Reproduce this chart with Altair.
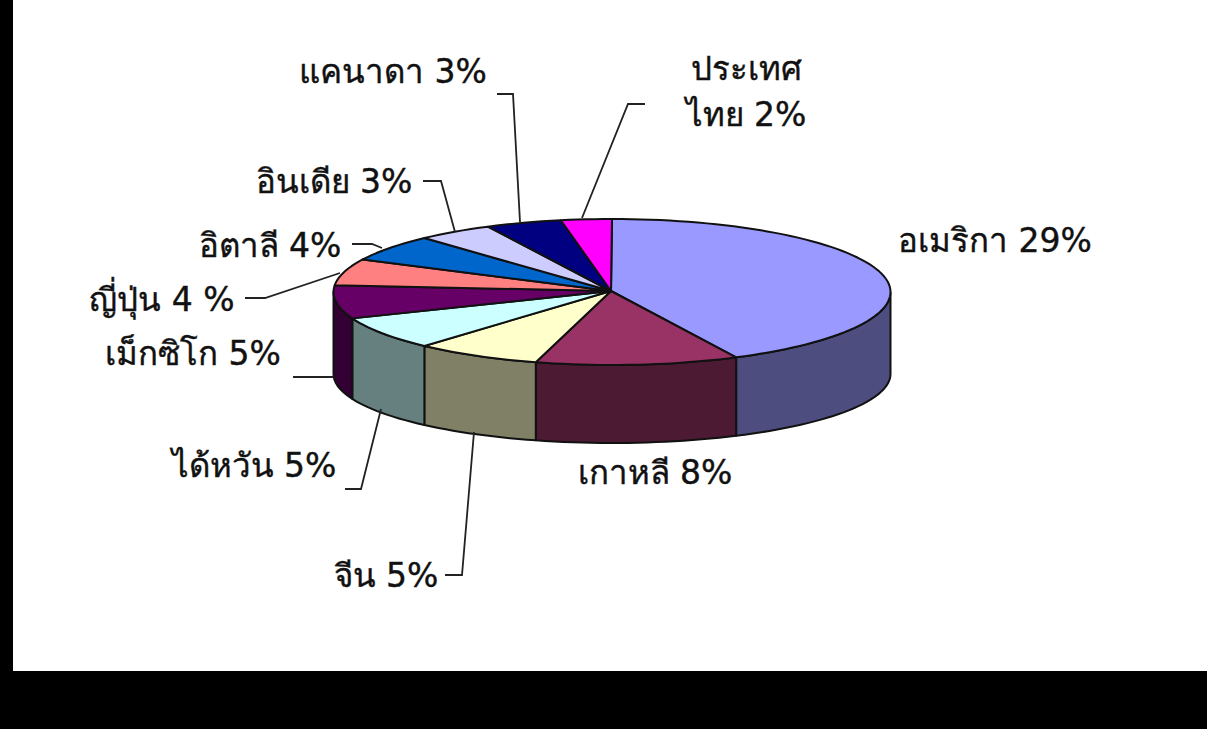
import math
import altair as alt
import pandas as pd

# Export shares by destination, clockwise from twelve o'clock
countries = ["อเมริกา", "เกาหลี", "จีน", "ได้หวัน", "เม็กซิโก", "ญี่ปุ่น", "อิตาลี", "อินเดีย", "แคนาดา", "ประเทศไทย"]
shares = [29, 8, 5, 5, 5, 4, 4, 3, 3, 2]
top_colors = ["#9999FF", "#993366", "#FFFFCC", "#CCFFFF", "#660066", "#FF8080", "#0066CC", "#CCCCFF", "#000080", "#FF00FF"]
wall_colors = ["#4D4D80", "#4D1A33", "#808066", "#668080", "#330033", "#804040", "#003366", "#666680", "#000040", "#800080"]

# Label text, its centre, its baseline
label_texts = ["แคนาดา 3%", "อินเดีย 3%", "อิตาลี 4%", "ญี่ปุ่น 4 %", "เม็กซิโก 5%", "ได้หวัน 5%", "จีน 5%",
               "เกาหลี 8%", "อเมริกา 29%", "ประเทศ", "ไทย 2%"]
label_x = [393, 334, 270, 162, 193, 254, 386, 655, 995, 746, 746]
label_y = [83, 193, 257, 311, 365, 477, 587, 484, 252, 80, 126]

# Leader lines from label to slice
leaders = {
    "แคนาดา": [(497, 94), (513, 94), (520, 222)],
    "อินเดีย": [(423, 181), (441, 181), (455, 232)],
    "อิตาลี": [(352, 244), (372, 244), (382, 248)],
    "ญี่ปุ่น": [(245, 298), (265, 298), (340, 273)],
    "เม็กซิโก": [(293, 377), (333, 377)],
    "ได้หวัน": [(345, 489), (361, 489), (381, 409)],
    "จีน": [(445, 575), (462, 575), (474, 432)],
    "ไทย": [(645, 104), (628, 104), (582, 218)],
}

WIDTH, HEIGHT = 1207, 729
CX, CY, RX, RY = 612, 292, 278.5, 73
BOTTOM_CY, BOTTOM_RY = 374, 69


def on_rim(deg, cy=CY, ry=RY):
    t = math.radians(deg)
    return CX + RX * math.sin(t), cy - ry * math.cos(t)


def arc_degrees(a, b, step=2.0):
    n = max(2, int((b - a) / step) + 1)
    return [a + (b - a) * i / n for i in range(n + 1)]


total = sum(shares)
top_rows, wall_rows = [], []
start = 0.0
for i, (name, share) in enumerate(zip(countries, shares)):
    end = start + share / total * 360
    # Top face: wedge from the hub round the rim and back
    pts = [(CX - 1, CY - 1)] + [on_rim(d) for d in arc_degrees(start, end)] + [(CX - 1, CY - 1)]
    top_rows += [dict(slice=name, order=j, x=p[0], y=p[1], fill=top_colors[i]) for j, p in enumerate(pts)]
    # Wall: only the part of the rim that faces the viewer
    a, b = max(start, 90), min(end, 270)
    if b > a:
        deg = arc_degrees(a, b)
        pts = [on_rim(d) for d in deg] + [on_rim(d, BOTTOM_CY, BOTTOM_RY) for d in reversed(deg)]
        pts.append(pts[0])
        wall_rows += [dict(slice=name, order=j, x=p[0], y=p[1], fill=wall_colors[i]) for j, p in enumerate(pts)]
    start = end

leader_rows = [dict(key=k, order=j, x=p[0], y=p[1]) for k, pts in leaders.items() for j, p in enumerate(pts)]
label_rows = pd.DataFrame(dict(text=label_texts, x=label_x, y=label_y))

x_scale = alt.Scale(domain=[0, WIDTH], range=[0, WIDTH], nice=False, zero=False)
y_scale = alt.Scale(domain=[0, HEIGHT], range=[0, HEIGHT], nice=False, zero=False)
X = alt.X("x:Q", scale=x_scale, axis=None)
Y = alt.Y("y:Q", scale=y_scale, axis=None)

frame = pd.DataFrame(dict(x=[13], x2=[WIDTH], y=[0], y2=[671]))
panel = alt.Chart(frame).mark_rect(color="white").encode(X, Y, x2="x2:Q", y2="y2:Q")


def faces(rows):
    return alt.Chart(pd.DataFrame(rows)).mark_line(
        stroke="#111111", strokeWidth=2, strokeJoin="round", interpolate="linear"
    ).encode(
        X, Y,
        order="order:Q",
        detail="slice:N",
        fill=alt.Fill("fill:N", scale=None),
    )


walls = faces(wall_rows)
tops = faces(top_rows)

leader_lines = alt.Chart(pd.DataFrame(leader_rows)).mark_line(color="#222222", strokeWidth=1.8).encode(
    X, Y, order="order:Q", detail="key:N"
)

labels = alt.Chart(label_rows).mark_text(
    font="DejaVu Sans, Liberation Sans, sans-serif", fontSize=33, color="#111111",
    stroke="#111111", strokeWidth=0.4, align="center", baseline="alphabetic"
).encode(X, Y, text="text:N")

chart = alt.layer(panel, walls, tops, leader_lines, labels).properties(
    width=WIDTH, height=HEIGHT, padding=0, background="black",
    autosize=alt.AutoSizeParams(type="none"),
).configure_view(stroke=None)

chart.save("out.html", embed_options={"renderer": "svg", "actions": False})
